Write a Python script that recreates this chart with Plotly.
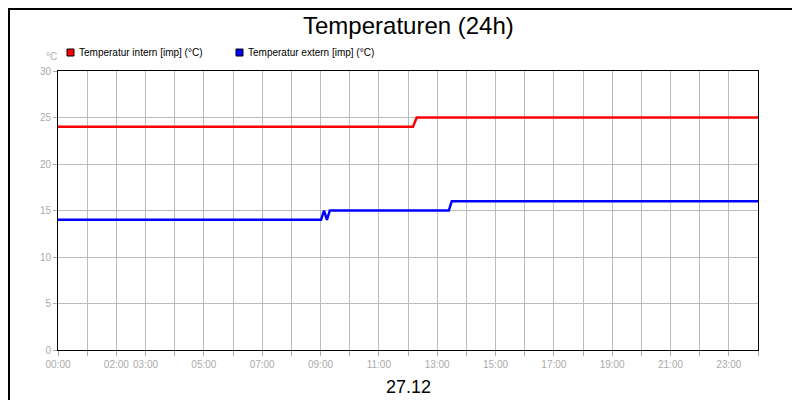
import plotly.graph_objects as go

hours_intern = [0, 12.17, 12.3, 24]
temp_intern = [24, 24, 25, 25]
hours_extern = [0, 9.02, 9.12, 9.22, 9.32, 13.4, 13.5, 24]
temp_extern = [14, 14, 15, 14, 15, 15, 16, 16]
series_names = ["Temperatur intern [imp] (°C)", "Temperatur extern [imp] (°C)"]
series_colors = ["#ff0000", "#0000ff"]
tick_hours = list(range(0, 25))
label_hours = {0: "00:00", 2: "02:00", 3: "03:00", 5: "05:00", 7: "07:00", 9: "09:00",
               11: "11:00", 13: "13:00", 15: "15:00", 17: "17:00", 19: "19:00",
               21: "21:00", 23: "23:00"}
tick_text = [label_hours.get(h, "") for h in tick_hours]

W, H, L, R, T, B = 800, 400, 50, 50, 63, 58
pw, ph = W - L - R, H - T - B

def px(x):
    return (x - L) / pw

def py(y):
    return (H - B - y) / ph

fig = go.Figure()
fig.add_trace(go.Scatter(x=hours_intern, y=temp_intern, mode="lines",
                         line=dict(color=series_colors[0], width=2.5), name=series_names[0]))
fig.add_trace(go.Scatter(x=hours_extern, y=temp_extern, mode="lines",
                         line=dict(color=series_colors[1], width=2.5), name=series_names[1]))

annotations = [
    dict(text="Temperaturen (24h)", x=0.5, y=py(18), xref="paper", yref="paper",
         xanchor="center", yanchor="middle", showarrow=False,
         font=dict(size=24, color="black")),
    dict(text="27.12", x=0.5, y=py(379), xref="paper", yref="paper", xanchor="center",
         yanchor="middle", showarrow=False, font=dict(size=18, color="black")),
    dict(text="°C", x=px(43), y=py(48), xref="paper", yref="paper", xanchor="center",
         yanchor="middle", showarrow=False, font=dict(size=10, color="#aaaaaa")),
]
shapes = [dict(type="rect", xref="paper", yref="paper", x0=px(1), x1=px(799),
               y0=py(399), y1=py(1), line=dict(color="black", width=2))]
for i, (name, col) in enumerate(zip(series_names, series_colors)):
    sx = [63, 232][i]
    shapes.append(dict(type="rect", xref="paper", yref="paper", x0=px(sx - 4), x1=px(sx + 3),
                       y0=py(48), y1=py(41), fillcolor=col, line=dict(color="black", width=1)))
    annotations.append(dict(text=name, x=px(sx + 6), y=py(44.5), xref="paper", yref="paper",
                            xanchor="left", yanchor="middle", showarrow=False,
                            font=dict(size=10, color="black")))

fig.update_layout(
    width=W, height=H, paper_bgcolor="white", plot_bgcolor="white",
    margin=dict(l=L, r=R, t=T, b=B), showlegend=False,
    font=dict(family="Liberation Sans, Arial", size=10, color="#aaaaaa"),
    xaxis=dict(range=[0, 24], tickvals=tick_hours, ticktext=tick_text,
               showgrid=True, gridcolor="#bbbbbb", gridwidth=1,
               ticks="outside", ticklen=5, tickcolor="#aaaaaa",
               showline=True, linecolor="black", linewidth=1, mirror=True,
               zeroline=False, automargin=False, tickfont=dict(color="#aaaaaa", size=10)),
    yaxis=dict(range=[0, 30], dtick=5, showgrid=True, gridcolor="#bbbbbb",
               ticks="outside", ticklen=4, tickcolor="#aaaaaa",
               showline=True, linecolor="black", linewidth=1, mirror=True,
               zeroline=False, automargin=False, tickfont=dict(color="#aaaaaa", size=10)),
    annotations=annotations, shapes=shapes,
)
fig.write_html("out.html")
